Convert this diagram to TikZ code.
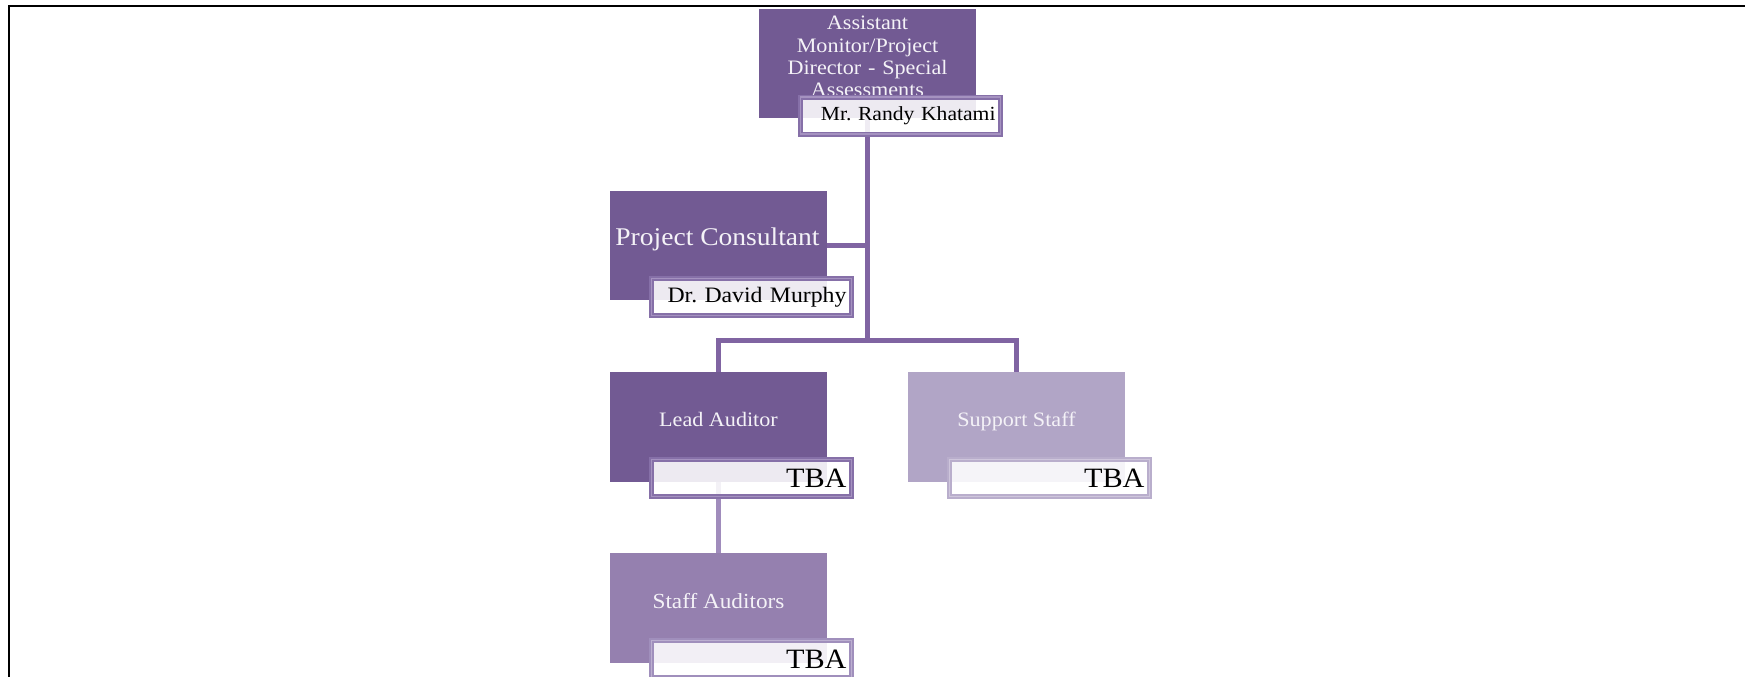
\documentclass[tikz,border=0pt]{standalone}
\usepackage{fontspec}
\newfontfamily\orgfont[FakeStretch=1.08]{Liberation Serif}
\usetikzlibrary{calc}
\definecolor{deep}{HTML}{725A93}
\definecolor{mid}{HTML}{9580AF}
\definecolor{pale}{HTML}{B1A5C6}
\definecolor{link}{HTML}{8064A2}
\definecolor{linklight}{HTML}{A08CBC}
\definecolor{rimdeep}{HTML}{8670A8}
\definecolor{rimdeepin}{HTML}{A592C0}
\definecolor{rimmid}{HTML}{A08FBC}
\definecolor{rimmidin}{HTML}{BCAFD0}
\definecolor{rimpale}{HTML}{B9AECC}
\definecolor{rimpalein}{HTML}{CFC6DC}
\definecolor{labelwhite}{HTML}{F4F2F7}
\tikzset{
  mainbox/.style={fill=#1, draw=none, minimum width=217pt, minimum height=109pt, inner sep=0pt},
  namebox/.style 2 args={draw=#1, double=#2, line width=1.9pt, double distance=1.2pt,
    fill=white, fill opacity=0.88, text opacity=1, minimum width=200pt, minimum height=37pt,
    text width=190pt, align=right, inner sep=3pt, text=black},
  boxlabel/.style={anchor=base, text=labelwhite, inner sep=0pt, font=\orgfont\fontsize{20.5}{22.3}\selectfont},
  conn/.style={draw=link, line width=5pt},
  connlight/.style={draw=linklight, line width=5pt},
  frameline/.style={draw=black, line width=2pt}
}
\begin{document}
\frenchspacing
\begin{tikzpicture}[x=1pt,y=-1pt]
\useasboundingbox (0,0) rectangle (1745,677);
% page frame (top and left rules)
\coordinate (fcorner) at (9,6.3);
\coordinate (fright) at (1745,6.3);
\coordinate (fbottom) at (9,677);
\draw[frameline] (fright) -- (fcorner) -- (fbottom);

% position boxes
\node[mainbox=deep] (dir) at (867.5,63.5) {};
\node[mainbox=deep] (cons) at (718.5,245.5) {};
\node[mainbox=deep, minimum height=110pt] (lead) at (718.5,427) {};
\node[mainbox=pale, minimum height=110pt] (supp) at (1016.5,427) {};
\node[mainbox=mid, minimum height=110pt] (staff) at (718.5,608) {};

% position titles
\node[anchor=north, text=labelwhite, inner sep=0pt, align=center, text width=205pt,
      font=\orgfont\fontsize{20.5}{22.3}\selectfont] (dirlabel) at (867.5,16)
  {Assistant\\Monitor/Project\\Director - Special\\Assessments};
\node[boxlabel, font=\orgfont\fontsize{25.5}{28}\selectfont] (conslabel) at (717.5,245) {Project Consultant};
\node[boxlabel] (leadlabel) at (718.5,426) {Lead Auditor};
\node[boxlabel] (supplabel) at (1016.5,426) {Support Staff};
\node[boxlabel, font=\orgfont\fontsize{21.5}{24}\selectfont] (stafflabel) at (718.5,608) {Staff Auditors};

% reporting lines
\coordinate (bus) at (dir.south |- 0,340.5);
\draw[conn] (dir.south) -- (bus);
\draw[conn] (lead.north) |- (bus) -| (supp.north);
\draw[conn] (cons.east) -- (cons.east -| dir.south);
\draw[connlight] (lead.south) -- (staff.north);

% name plates
\node[namebox={rimdeep}{rimdeepin}, font=\orgfont\fontsize{20}{22}\selectfont] (dirname)
  at ($(dir.center)+(33,52)$) {Mr. Randy Khatami};
\node[namebox={rimdeep}{rimdeepin}, font=\orgfont\fontsize{22}{24}\selectfont] (consname)
  at ($(cons.center)+(33,51.5)$) {Dr. David Murphy};
\node[namebox={rimdeep}{rimdeepin}, font=\orgfont\fontsize{28}{30}\selectfont] (leadname)
  at ($(lead.center)+(33,51)$) {TBA};
\node[namebox={rimpale}{rimpalein}, font=\orgfont\fontsize{28}{30}\selectfont] (suppname)
  at ($(supp.center)+(33,51)$) {TBA};
\node[namebox={rimmid}{rimmidin}, font=\orgfont\fontsize{28}{30}\selectfont] (staffname)
  at ($(staff.center)+(33,51)$) {TBA};
\end{tikzpicture}
\end{document}
